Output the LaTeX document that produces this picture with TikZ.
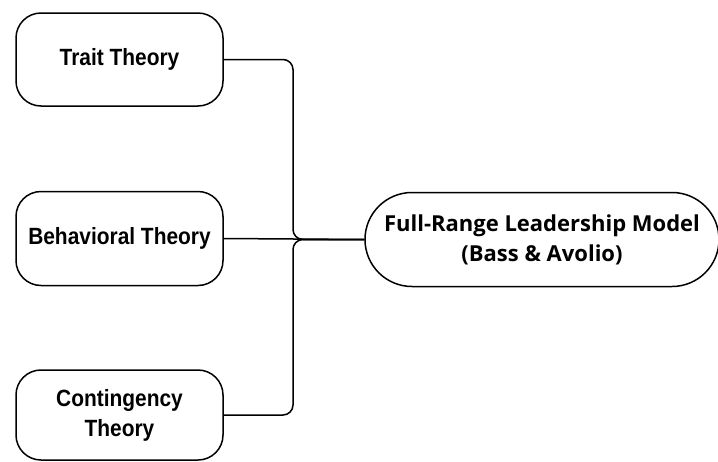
\documentclass[tikz,border=0pt]{standalone}
\usepackage{fontspec}
\setmainfont{Liberation Sans}
\newfontfamily\theoryfont[FakeStretch=0.89]{Liberation Sans}
\newfontfamily\modelfont{Open Sans}
\begin{document}
\begin{tikzpicture}[x=1pt,y=-1pt,
  theory/.style={draw,line width=1.5pt,rounded corners=25pt,minimum width=207pt,
    align=center,font=\fontsize{23.5}{30}\theoryfont\bfseries},
  model/.style={draw,line width=1.5pt,rounded corners=47pt,minimum width=354pt,
    minimum height=94pt,align=center,font=\fontsize{22}{30}\modelfont\bfseries},
  link/.style={line width=1.5pt,rounded corners=10pt}]
\useasboundingbox (0,0) rectangle (718,461);
\clip (0,0) rectangle (718,461);
\fill[white] (0,0) rectangle (718,461);
\node[theory,minimum height=93pt] (trait) at (119.5,59.5) {Trait Theory};
\node[theory,minimum height=94pt] (behav) at (119.5,238.5) {Behavioral Theory};
\node[theory,minimum height=90pt] (conting) at (119.5,415) {Contingency\\Theory};
\node[model] (fullrange) at (542,239.5) {Full-Range Leadership Model\\(Bass \& Avolio)};
\coordinate (join) at (293,239.5);
\draw[link] (trait.east) -| (join) -- (fullrange.west);
\draw[link] (behav.east) -- (fullrange.west);
\draw[link] (conting.east) -| (join) -- (fullrange.west);
\end{tikzpicture}
\end{document}
